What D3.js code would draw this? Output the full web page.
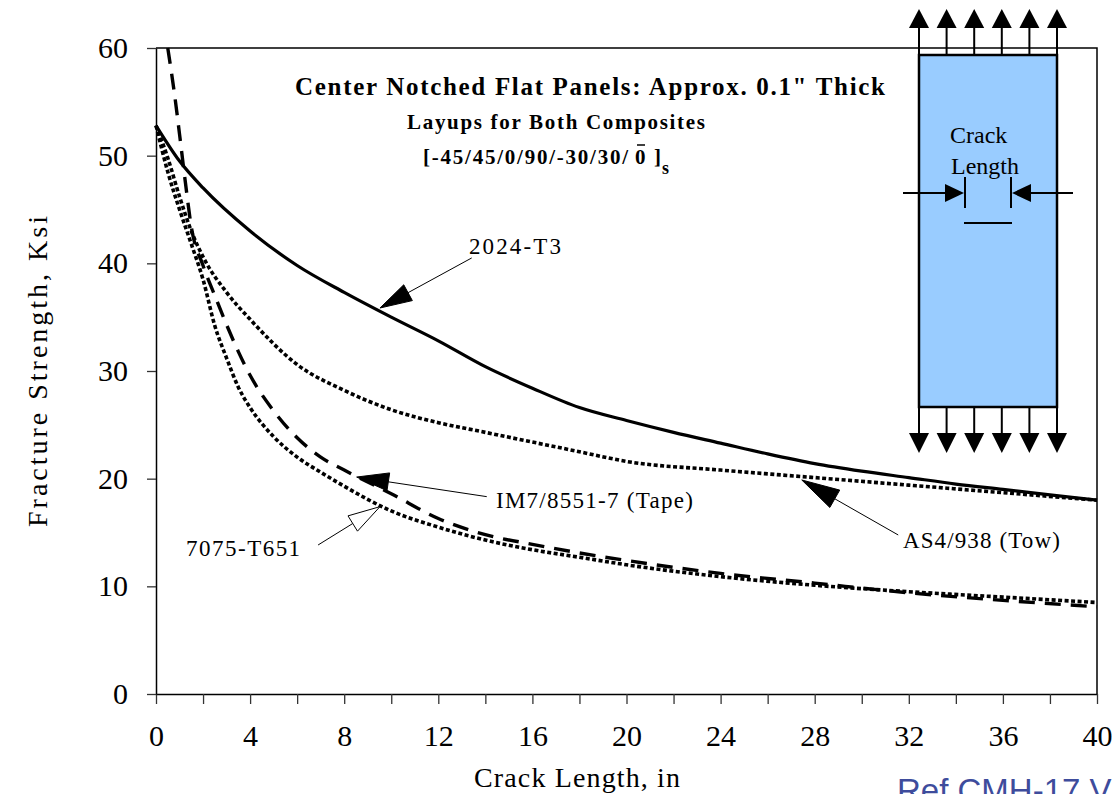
<!DOCTYPE html>
<html>
<head>
<meta charset="utf-8">
<script src="https://cdn.jsdelivr.net/npm/d3@7"></script>
<style>
  body { margin: 0; background: #fff; }
  svg { display: block; }
</style>
</head>
<body>
<div id="chart"></div>
<script>
// Chart values (crack length in inches, strength in ksi)
const crack2024 = [0, 1, 2, 4, 6, 8, 10, 12, 14, 16, 18, 20, 22, 24, 26, 28, 30, 32, 34, 36, 38, 40];
const strength2024 = [52.8, 49.5, 47.0, 43.0, 39.8, 37.3, 35.0, 32.8, 30.4, 28.4, 26.6, 25.4, 24.3, 23.3, 22.3, 21.4, 20.7, 20.1, 19.5, 19.0, 18.5, 18.0];

const crackAS4 = [0, 0.5, 1, 1.5, 2, 3, 4, 6, 8, 10, 12, 14, 16, 18, 20, 24, 28, 32, 36, 40];
const strengthAS4 = [52.8, 49.8, 46.2, 43.0, 40.6, 37.3, 34.8, 30.6, 28.2, 26.4, 25.2, 24.3, 23.4, 22.5, 21.6, 20.8, 20.1, 19.4, 18.7, 18.0];

const crackIM7 = [0.5, 0.8, 1, 1.25, 1.5, 2, 2.5, 3, 3.5, 4, 5, 6, 7, 8, 10, 12, 14, 16, 18, 20, 24, 28, 32, 36, 40];
const strengthIM7 = [60.0, 55.5, 52.0, 47.5, 43.4, 39.8, 37.0, 34.3, 31.8, 29.6, 26.3, 23.8, 22.0, 20.8, 18.6, 16.3, 14.8, 13.9, 13.1, 12.4, 11.2, 10.3, 9.4, 8.7, 8.1];

const crack7075 = [0, 0.5, 1, 1.5, 2, 2.5, 3, 3.5, 4, 5, 6, 7, 8, 10, 12, 14, 16, 18, 20, 24, 28, 32, 36, 40];
const strength7075 = [52.8, 48.5, 45.0, 41.8, 38.5, 34.2, 31.2, 28.5, 26.6, 23.9, 22.0, 20.6, 19.3, 17.0, 15.5, 14.3, 13.4, 12.7, 12.0, 10.9, 10.1, 9.5, 9.0, 8.5];

const yTicks = [0, 10, 20, 30, 40, 50, 60];
const xTicks = d3.range(0, 41, 2);

const labelNames = ['2024-T3', 'IM7/8551-7 (Tape)', '7075-T651', 'AS4/938 (Tow)'];

// Page layout
const width = 1118;
const height = 794;
const margin = { top: 48, right: 21, bottom: 100, left: 156 };
const plotW = width - margin.left - margin.right;
const plotH = height - margin.top - margin.bottom;

const serif = '"Liberation Serif", "Times New Roman", serif';

const svg = d3.select('#chart')
  .append('svg')
  .attr('width', width)
  .attr('height', height);

// Scales
const x = d3.scaleLinear().domain([0, 40]).range([margin.left, margin.left + plotW]);
const y = d3.scaleLinear().domain([0, 60]).range([margin.top + plotH, margin.top]);

// Plot frame (top and right)
svg.append('path')
  .attr('d', `M${x(0)},${y(60)}H${x(40)}V${y(0)}`)
  .attr('fill', 'none')
  .attr('stroke', '#000')
  .attr('stroke-width', 1.5);

// Axes
const xAxis = d3.axisBottom(x)
  .tickValues(xTicks)
  .tickFormat(d => (d % 4 === 0 ? d : ''))
  .tickSize(10)
  .tickSizeOuter(0)
  .tickPadding(21);

const yAxis = d3.axisLeft(y)
  .tickValues(yTicks)
  .tickSize(9)
  .tickSizeOuter(0)
  .tickPadding(19);

const gx = svg.append('g')
  .attr('transform', `translate(0,${y(0)})`)
  .call(xAxis);

const gy = svg.append('g')
  .attr('transform', `translate(${x(0)},0)`)
  .call(yAxis);

[gx, gy].forEach(g => {
  g.select('.domain').attr('stroke', '#000').attr('stroke-width', 1.5);
  g.selectAll('.tick line').attr('stroke', '#333').attr('stroke-width', 1.3);
  g.selectAll('.tick text')
    .attr('fill', '#000')
    .style('font-family', serif)
    .style('font-size', '30px');
});

// Axis titles
svg.append('text')
  .attr('x', 474)
  .attr('y', 787)
  .attr('textLength', 206)
  .attr('lengthAdjust', 'spacing')
  .style('font-family', serif)
  .style('font-size', '28px')
  .text('Crack Length, in');

svg.append('text')
  .attr('transform', 'translate(47,527) rotate(-90)')
  .attr('textLength', 311)
  .attr('lengthAdjust', 'spacing')
  .style('font-family', serif)
  .style('font-size', '28px')
  .text('Fracture Strength, Ksi');

// Curves
const line = d3.line()
  .x(d => x(d[0]))
  .y(d => y(d[1]))
  .curve(d3.curveMonotoneX);

const series = [
  { xs: crack2024, ys: strength2024, dash: null, w: 3.2 },
  { xs: crackAS4, ys: strengthAS4, dash: '4,2.5', w: 3.6 },
  { xs: crack7075, ys: strength7075, dash: '4,2.5', w: 3.6 },
  { xs: crackIM7, ys: strengthIM7, dash: '16,10', w: 3.4 }
];

series.forEach(s => {
  svg.append('path')
    .datum(d3.zip(s.xs, s.ys))
    .attr('d', line)
    .attr('fill', 'none')
    .attr('stroke', '#000')
    .attr('stroke-width', s.w)
    .attr('stroke-dasharray', s.dash);
});

// Arrow helper: thin line from tail to a triangular head at tip
function arrow(tail, tip, filled, len, halfW) {
  const dx = tail[0] - tip[0];
  const dy = tail[1] - tip[1];
  const L = Math.hypot(dx, dy);
  const ux = dx / L, uy = dy / L;
  const bx = tip[0] + ux * len, by = tip[1] + uy * len;
  const px = -uy, py = ux;
  svg.append('line')
    .attr('x1', bx).attr('y1', by)
    .attr('x2', tail[0]).attr('y2', tail[1])
    .attr('stroke', '#000')
    .attr('stroke-width', 1);
  svg.append('path')
    .attr('d', `M${tip[0]},${tip[1]}L${bx + px * halfW},${by + py * halfW}L${bx - px * halfW},${by - py * halfW}Z`)
    .attr('fill', filled ? '#000' : '#fff')
    .attr('stroke', '#000')
    .attr('stroke-width', 1);
}

// Curve labels (positions in data units)
const labelPos = [[13.3, 40.9], [14.45, 17.3], [1.28, 12.85], [31.75, 13.6]];
const labelWidths = [92, 197, 114, 157];
const arrowTails = [[13.42, 40.5], [14.06, 18.33], [6.89, 13.84], [31.55, 14.77]];
const arrowTips = [[9.52, 35.85], [8.53, 20.15], [9.52, 17.4], [27.45, 19.88]];
const arrowFilled = [true, true, false, true];

labelNames.forEach((name, i) => {
  svg.append('text')
    .attr('x', x(labelPos[i][0]))
    .attr('y', y(labelPos[i][1]))
    .attr('textLength', labelWidths[i])
    .attr('lengthAdjust', 'spacing')
    .style('font-family', serif)
    .style('font-size', '23px')
    .text(name);
  arrow(
    [x(arrowTails[i][0]), y(arrowTails[i][1])],
    [x(arrowTips[i][0]), y(arrowTips[i][1])],
    arrowFilled[i], i === 3 ? 38 : 32, i === 3 ? 10 : 9
  );
});

// Title block
const title = svg.append('g')
  .style('font-family', serif)
  .style('font-weight', 'bold');

title.append('text')
  .attr('x', 295).attr('y', 95)
  .attr('textLength', 590)
  .attr('lengthAdjust', 'spacing')
  .style('font-size', '25px')
  .text('Center Notched Flat Panels: Approx. 0.1" Thick');

title.append('text')
  .attr('x', 407).attr('y', 129)
  .attr('textLength', 298)
  .attr('lengthAdjust', 'spacing')
  .style('font-size', '21px')
  .text('Layups for Both Composites');

title.append('text')
  .attr('x', 423).attr('y', 164)
  .attr('textLength', 205)
  .attr('lengthAdjust', 'spacing')
  .style('font-size', '21px')
  .text('[-45/45/0/90/-30/30/');

title.append('text')
  .attr('x', 635).attr('y', 164)
  .style('font-size', '21px')
  .text('0');

title.append('line')
  .attr('x1', 637).attr('x2', 645)
  .attr('y1', 145).attr('y2', 145)
  .attr('stroke', '#000')
  .attr('stroke-width', 1.5);

title.append('text')
  .attr('x', 654).attr('y', 164)
  .style('font-size', '21px')
  .text(']');

title.append('text')
  .attr('x', 662).attr('y', 174)
  .style('font-size', '18px')
  .text('s');

// Panel sketch (inset drawing)
const panel = svg.append('g');
const pL = 919, pR = 1057, pT = 55, pB = 407;

panel.append('rect')
  .attr('x', pL).attr('y', pT)
  .attr('width', pR - pL).attr('height', pB - pT)
  .attr('fill', '#99ccff')
  .attr('stroke', '#000')
  .attr('stroke-width', 2.5);

const loadXs = d3.range(6).map(i => pL + i * (pR - pL) / 5);
loadXs.forEach(lx => {
  // top load arrows
  panel.append('line')
    .attr('x1', lx).attr('x2', lx)
    .attr('y1', pT).attr('y2', 27)
    .attr('stroke', '#000').attr('stroke-width', 2);
  panel.append('path')
    .attr('d', `M${lx},9L${lx - 10},28L${lx + 10},28Z`)
    .attr('fill', '#000');
  // bottom load arrows
  panel.append('line')
    .attr('x1', lx).attr('x2', lx)
    .attr('y1', pB).attr('y2', 434)
    .attr('stroke', '#000').attr('stroke-width', 2);
  panel.append('path')
    .attr('d', `M${lx},453L${lx - 10},433L${lx + 10},433Z`)
    .attr('fill', '#000');
});

panel.append('text')
  .attr('x', 950).attr('y', 143)
  .style('font-family', serif)
  .style('font-size', '24px')
  .text('Crack');

panel.append('text')
  .attr('x', 951).attr('y', 174)
  .style('font-family', serif)
  .style('font-size', '24px')
  .text('Length');

// crack width markers
[965, 1011].forEach(mx => {
  panel.append('line')
    .attr('x1', mx).attr('x2', mx)
    .attr('y1', 177).attr('y2', 208)
    .attr('stroke', '#000').attr('stroke-width', 2);
});

panel.append('line')
  .attr('x1', 903).attr('x2', 946)
  .attr('y1', 193).attr('y2', 193)
  .attr('stroke', '#000').attr('stroke-width', 2);
panel.append('path')
  .attr('d', 'M964,193L945,184L945,202Z')
  .attr('fill', '#000');

panel.append('line')
  .attr('x1', 1030).attr('x2', 1073)
  .attr('y1', 193).attr('y2', 193)
  .attr('stroke', '#000').attr('stroke-width', 2);
panel.append('path')
  .attr('d', 'M1012,193L1031,184L1031,202Z')
  .attr('fill', '#000');

// the crack itself
panel.append('line')
  .attr('x1', 964).attr('x2', 1012)
  .attr('y1', 223).attr('y2', 223)
  .attr('stroke', '#000').attr('stroke-width', 2);

// Source note (cut off at the page edge, as in the original)
svg.append('text')
  .attr('x', 897)
  .attr('y', 802)
  .style('font-family', '"Liberation Sans", Arial, sans-serif')
  .style('font-size', '33px')
  .attr('fill', '#3e4c9c')
  .text('Ref CMH-17 V');
</script>
</body>
</html>
